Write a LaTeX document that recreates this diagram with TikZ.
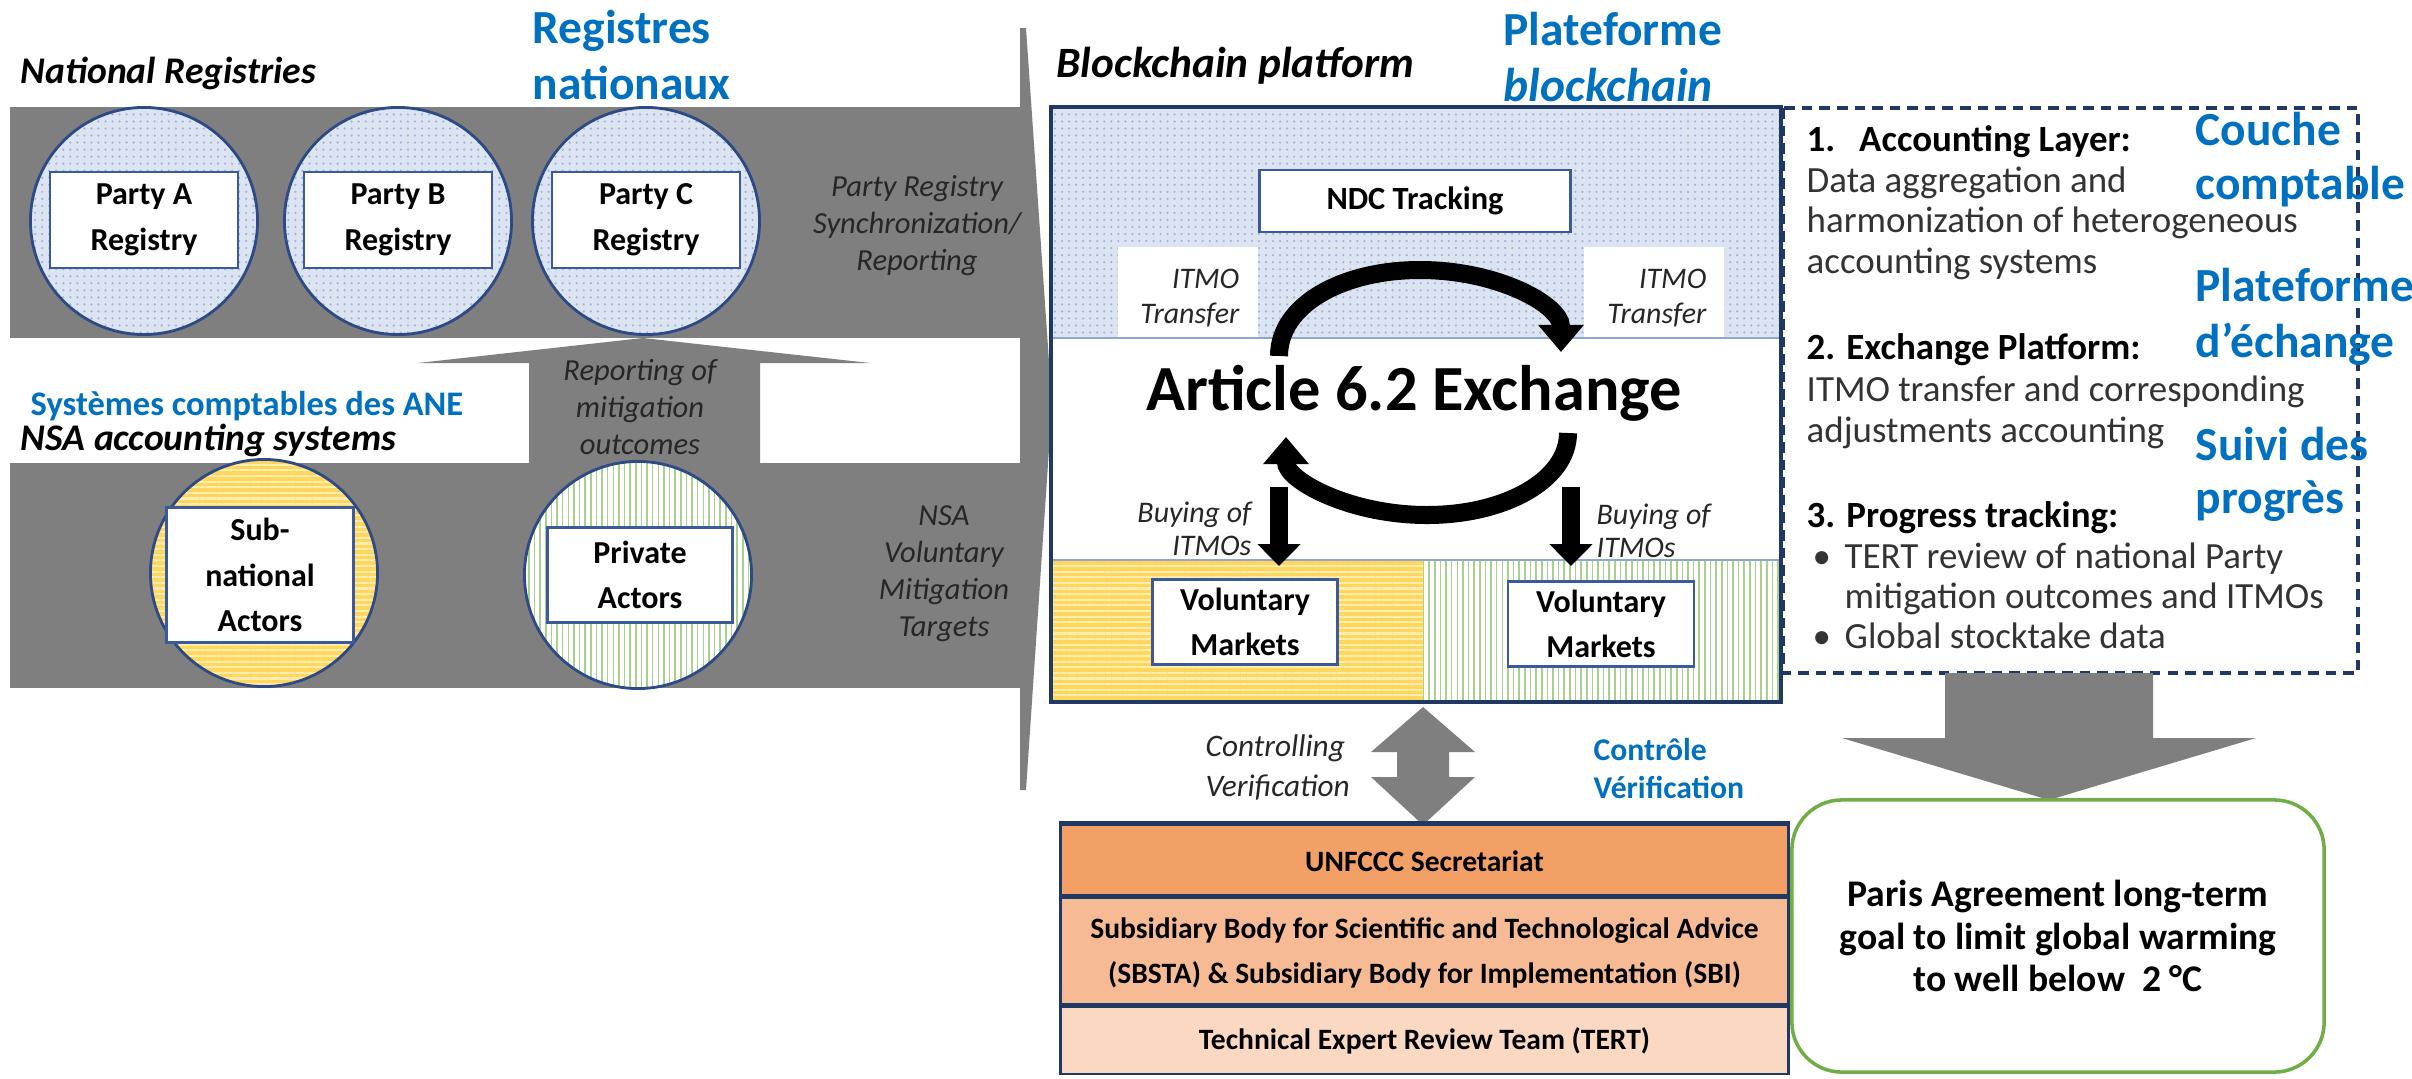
\documentclass[tikz,border=0pt]{standalone}
\usepackage{fontspec}
\setmainfont{Carlito}
\usetikzlibrary{arrows.meta,patterns.meta}
\definecolor{greyA}{HTML}{7F7F7F}
\definecolor{navy}{HTML}{1F3864}
\definecolor{circB}{HTML}{2E4A86}
\definecolor{boxB}{HTML}{3A5A9A}
\definecolor{blueF}{HTML}{DCE4F2}
\definecolor{blueD}{HTML}{9FB4DC}
\definecolor{yelA}{HTML}{FFD75E}
\definecolor{yelB}{HTML}{FFEDB0}
\definecolor{greenA}{HTML}{A9D18E}
\definecolor{blueT}{HTML}{0070C0}
\definecolor{orA}{HTML}{F2A065}
\definecolor{orB}{HTML}{F6BB94}
\definecolor{orC}{HTML}{FAD8C1}
\definecolor{greenB}{HTML}{70AD47}
\definecolor{txt}{HTML}{333333}
\definecolor{sepL}{HTML}{8FA6CF}
\begin{document}
\begin{tikzpicture}[x=0.01cm,y=-0.01cm,
  greyshape/.style={fill=greyA,draw=none},
  bluehatch/.style={preaction={fill=blueF},pattern={Dots[distance=2pt,radius=0.35pt]},pattern color=blueD},
  yellowstripe/.style={preaction={fill=yelA},pattern={Lines[angle=0,distance=1.6pt,line width=0.6pt]},pattern color=yelB},
  greenstripe/.style={preaction={fill=white},pattern={Lines[angle=90,distance=1.6pt,line width=0.45pt]},pattern color=greenA},
  regcirc/.style={circle,draw=circB,line width=0.8pt,minimum size=2.27cm,inner sep=0pt},
  wbox/.style={draw=boxB,line width=0.8pt,fill=white,inner sep=0pt,align=center,font=\bfseries\fontsize{9.1}{13}\selectfont},
  ital/.style={font=\itshape\fontsize{8.7}{10.5}\selectfont,text=black!85,align=center,inner sep=0pt},
  bluelab/.style={font=\bfseries\fontsize{13.5}{16}\selectfont,text=blueT,anchor=base west,inner sep=0pt},
  head/.style={font=\bfseries\itshape\fontsize{10.7}{13}\selectfont,anchor=base west,inner sep=0pt},
  ptxt/.style={font=\fontsize{10.5}{12}\selectfont,text=txt,anchor=base west,inner sep=0pt},
  phead/.style={font=\bfseries\fontsize{10.5}{12}\selectfont,text=black,anchor=base west,inner sep=0pt},
  stackbox/.style={draw=navy,line width=0.8pt,minimum width=7.27cm,inner sep=0pt,align=center,font=\bfseries\fontsize{8.4}{12.8}\selectfont},
  blackarrow/.style={line width=0.18cm,-{Triangle[length=0.22cm,width=0.42cm]}},
  curvearrow/.style={line width=0.18cm,-{Triangle[length=0.27cm,width=0.44cm]}}
]
\useasboundingbox[fill=white] (0,0) rectangle (2412,1078);

% ---------- grey flows ----------
\fill[greyshape] (10,107) rectangle (1023,338);
\fill[greyshape] (10,463) rectangle (1023,688);
\fill[greyshape] (1020,28) -- (1026,28) -- (1052,405) -- (1026,790) -- (1020,790) -- cycle;
\fill[greyshape] (529,463) -- (529,363) -- (418,363) -- (643,338) -- (870,363) -- (760,363) -- (760,463) -- cycle;

% ---------- registries ----------
\node[regcirc,bluehatch,name=cA] at (144,221) {};
\node[regcirc,bluehatch,name=cB] at (398,221) {};
\node[regcirc,bluehatch,name=cC] at (646,221) {};
\node[wbox,minimum width=1.88cm,minimum height=0.96cm,name=bA] at (144,220) {Party A\\Registry};
\node[wbox,minimum width=1.88cm,minimum height=0.96cm,name=bB] at (398,220) {Party B\\Registry};
\node[wbox,minimum width=1.88cm,minimum height=0.96cm,name=bC] at (646,220) {Party C\\Registry};

\node[regcirc,yellowstripe,name=cS] at (264,573) {};
\node[regcirc,greenstripe,name=cP] at (638,575) {};
\node[wbox,minimum width=1.87cm,minimum height=1.35cm,name=bS] at (260,575) {Sub-\\national\\Actors};
\node[wbox,minimum width=1.85cm,minimum height=0.95cm,name=bP] at (640,575) {Private\\Actors};

\node[head,name=hNR] at (20,83) {National Registries};
\node[head,name=hNSA] at (20,450) {NSA accounting systems};

\node[ital,name=lPRS] at (917,226) {Party Registry\\Synchronization/\\Reporting};
\node[ital,name=lRep] at (640,407) {Reporting of\\mitigation\\outcomes};
\node[ital,name=lNSA] at (944,574) {NSA\\Voluntary\\Mitigation\\Targets};

% ---------- blockchain platform ----------
\node[font=\bfseries\itshape\fontsize{12.3}{15}\selectfont,anchor=base west,inner sep=0pt,name=hBP] at (1056,77) {Blockchain platform};
\path[bluehatch] (1051,107) rectangle (1781,338);
\fill[white] (1051,338) rectangle (1781,560);
\fill[white] (1118,247) rectangle (1258,338);
\fill[white] (1584,247) rectangle (1724,338);
\path[yellowstripe] (1051,560) rectangle (1423,702);
\path[greenstripe] (1423,560) rectangle (1781,702);
\draw[sepL,line width=0.6pt] (1051,338) -- (1781,338);
\draw[sepL,line width=0.6pt] (1051,560) -- (1781,560);
\draw[navy,line width=1.3pt] (1051,107) rectangle (1781,702);

\node[wbox,font=\bfseries\fontsize{9.2}{12}\selectfont,minimum width=3.11cm,minimum height=0.62cm,name=ndc] at (1415,201) {NDC Tracking};
\node[ital,align=right,anchor=east,font=\itshape\fontsize{8.5}{10}\selectfont,name=it1] at (1240,298) {ITMO\\Transfer};
\node[ital,align=right,anchor=east,font=\itshape\fontsize{8.5}{10}\selectfont,name=it2] at (1707,298) {ITMO\\Transfer};
\node[font=\bfseries\fontsize{18.3}{22}\selectfont,anchor=base,inner sep=0pt,name=art] at (1414,410) {Article 6.2 Exchange};

\coordinate (ta1) at (1279,356);
\coordinate (ta2) at (1561,352);
\draw[curvearrow] (ta1) .. controls (1279,305) and (1342,270) .. (1420,270) .. controls (1498,270) and (1561,305) .. (ta2);
\coordinate (ba1) at (1568,433);
\coordinate (ba2) at (1286,437);
\draw[curvearrow] (ba1) .. controls (1568,480) and (1505,515) .. (1427,515) .. controls (1349,515) and (1286,480) .. (ba2);

\coordinate (bl1) at (1279,487);
\coordinate (bl2) at (1279,566);
\coordinate (br1) at (1571,487);
\coordinate (br2) at (1571,566);
\draw[blackarrow] (bl1) -- (bl2);
\draw[blackarrow] (br1) -- (br2);
\node[ital,align=right,anchor=east,font=\itshape\fontsize{8.5}{9.4}\selectfont,name=buy1] at (1252,529) {Buying of\\ITMOs};
\node[ital,align=left,anchor=west,font=\itshape\fontsize{8.5}{9.4}\selectfont,name=buy2] at (1596,531) {Buying of\\ITMOs};

\node[wbox,minimum width=1.85cm,minimum height=0.85cm,name=vm1] at (1245,622) {Voluntary\\Markets};
\node[wbox,minimum width=1.86cm,minimum height=0.85cm,name=vm2] at (1601,624) {Voluntary\\Markets};

% ---------- controlling / verification ----------
\fill[greyshape] (1423,707) -- (1475,752) -- (1449,752) -- (1449,777) -- (1475,777) -- (1423,825) -- (1371,777) -- (1397,777) -- (1397,752) -- (1371,752) -- cycle;
\node[ital,align=left,anchor=west,font=\itshape\fontsize{8.9}{11.4}\selectfont,name=ctl] at (1205,767) {Controlling\\Verification};

% ---------- UNFCCC stack ----------
\node[stackbox,fill=orA,minimum height=0.73cm,name=s1] at (1424.5,861.5) {UNFCCC Secretariat};
\node[stackbox,fill=orB,minimum height=1.09cm,name=s2] at (1424.5,952.5) {Subsidiary Body for Scientific and Technological Advice\\(SBSTA) \& Subsidiary Body for Implementation (SBI)};
\node[stackbox,fill=orC,minimum height=0.67cm,name=s3] at (1424.5,1040.5) {Technical Expert Review Team (TERT)};
\draw[navy,line width=1.6pt] (s1.north west) -- (s1.north east);
\draw[navy,line width=1.6pt] (s2.north west) -- (s2.north east);
\draw[navy,line width=1.6pt] (s3.north west) -- (s3.north east);

% ---------- right panel ----------
\draw[navy,line width=0.9pt,dash pattern=on 3pt off 2pt] (1783,108) rectangle (2358,673);
\node[phead,name=p1] at (1806,151) {1.\hspace{6.8pt}Accounting Layer:};
\node[ptxt,name=p1a] at (1806,192) {Data aggregation and};
\node[ptxt,name=p1b] at (1806,232) {harmonization of heterogeneous};
\node[ptxt,name=p1c] at (1806,273) {accounting systems};
\node[phead,name=p2] at (1806,359) {2. Exchange Platform:};
\node[ptxt,name=p2a] at (1806,401) {ITMO transfer and corresponding};
\node[ptxt,name=p2b] at (1806,442) {adjustments accounting};
\node[phead,name=p3] at (1806,527) {3. Progress tracking:};
\node[ptxt,name=p3b1] at (1812,568) {•};
\node[ptxt,name=p3a] at (1844,568) {TERT review of national Party};
\node[ptxt,name=p3b] at (1844,608) {mitigation outcomes and ITMOs};
\node[ptxt,name=p3b2] at (1812,648) {•};
\node[ptxt,name=p3c] at (1844,648) {Global stocktake data};

% ---------- Paris goal ----------
\fill[greyshape] (1945,673) -- (2153,673) -- (2153,738) -- (2256,738) -- (2049,800) -- (1842,738) -- (1945,738) -- cycle;
\node[draw=greenB,line width=1pt,rounded corners=0.5cm,minimum width=5.32cm,minimum height=2.72cm,align=center,font=\bfseries\fontsize{10.7}{12.2}\selectfont,name=paris] at (2058,936) {Paris Agreement long-term\\goal to limit global warming\\to well below\ \ 2 °C};

% ---------- blue French labels ----------
\node[bluelab,name=fr1] at (532,43) {Registres};
\node[bluelab,name=fr2] at (532,99) {nationaux};
\node[bluelab,name=fr3] at (1503,45) {Plateforme};
\node[bluelab,font=\bfseries\itshape\fontsize{13.5}{16}\selectfont,name=fr4] at (1503,101) {blockchain};
\node[bluelab,name=fr5] at (2195,145) {Couche};
\node[bluelab,name=fr6] at (2195,199) {comptable};
\node[bluelab,name=fr7] at (2195,301) {Plateforme};
\node[bluelab,name=fr8] at (2195,357) {d’échange};
\node[bluelab,name=fr9] at (2195,460) {Suivi des};
\node[bluelab,name=fr10] at (2195,513) {progrès};
\node[bluelab,font=\bfseries\fontsize{9.8}{12}\selectfont,name=fr11] at (30,415) {Systèmes comptables des ANE};
\node[bluelab,font=\bfseries\fontsize{9}{11}\selectfont,name=fr12] at (1593,760) {Contrôle};
\node[bluelab,font=\bfseries\fontsize{9}{11}\selectfont,name=fr13] at (1593,798) {Vérification};
\end{tikzpicture}
\end{document}
